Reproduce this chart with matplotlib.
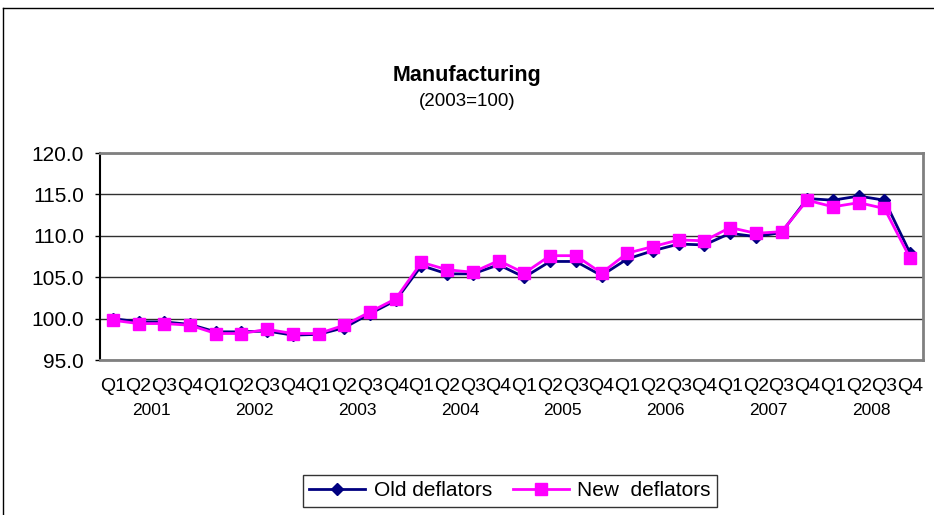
import matplotlib
matplotlib.use("Agg")
import matplotlib.pyplot as plt
from matplotlib.lines import Line2D
import numpy as np

plt.rcParams['font.family'] = ['Liberation Sans', 'DejaVu Sans']

years = ['2001', '2002', '2003', '2004', '2005', '2006', '2007', '2008']
quarters = ['Q1', 'Q2', 'Q3', 'Q4']
old_deflators = [100.0, 99.6, 99.6, 99.3, 98.4, 98.4, 98.5, 98.0,
                 98.1, 98.9, 100.6, 102.2, 106.4, 105.4, 105.4, 106.5,
                 105.0, 106.9, 106.9, 105.2, 107.2, 108.2, 109.0, 108.9,
                 110.3, 109.9, 110.4, 114.5, 114.3, 114.8, 114.3, 107.9]
new_deflators = [99.8, 99.4, 99.4, 99.2, 98.2, 98.2, 98.7, 98.2,
                 98.2, 99.2, 100.8, 102.4, 106.8, 105.9, 105.6, 107.0,
                 105.5, 107.6, 107.6, 105.5, 107.9, 108.7, 109.5, 109.4,
                 111.0, 110.3, 110.5, 114.3, 113.5, 114.0, 113.3, 107.3]
y_ticks = [95.0, 100.0, 105.0, 110.0, 115.0, 120.0]

W, H = 934, 515
fig = plt.figure(figsize=(W / 100, H / 100), dpi=100)

# outer chart border (left and top visible)
fig.add_artist(Line2D([3 / W, 3 / W], [0, 1 - 8 / H], color='black', lw=1, transform=fig.transFigure))
fig.add_artist(Line2D([3 / W, 1], [1 - 8 / H, 1 - 8 / H], color='black', lw=1, transform=fig.transFigure))

left, right, top, bottom = 100, 923, 153, 360
ax = fig.add_axes([left / W, 1 - bottom / H, (right - left) / W, (bottom - top) / H])

labels = [q for y in years for q in quarters]
x = np.arange(len(labels))

ax.plot(x, old_deflators, color='#000080', lw=2, marker='D', markersize=6.5,
        markerfacecolor='#000080', markeredgecolor='#000080', label='Old deflators', zorder=3)
ax.plot(x, new_deflators, color='#FF00FF', lw=2, marker='s', markersize=8,
        markerfacecolor='#FF00FF', markeredgecolor='#FF00FF', label='New  deflators', zorder=4)

ax.set_xlim(-0.5, len(labels) - 0.5)
ax.set_ylim(95, 120)
ax.set_yticks(y_ticks)
ax.set_yticklabels([f'{v:.1f}' for v in y_ticks], fontsize=15)
ax.yaxis.grid(True, color='#303030', lw=1)
ax.set_axisbelow(True)

ax.set_xticks(x)
ax.set_xticklabels(labels, fontsize=14)
ax.tick_params(axis='x', length=0, pad=13)
ax.tick_params(axis='y', length=3.5, width=1, pad=8, color='black')

for i, yr in enumerate(years):
    ax.text(i * 4 + 1.5, -0.245, yr, transform=ax.get_xaxis_transform(),
            ha='center', va='center', fontsize=12.5)

for s in ['top', 'right', 'bottom']:
    ax.spines[s].set_color('#808080')
    ax.spines[s].set_linewidth(2)
ax.spines['left'].set_color('black')
ax.spines['left'].set_linewidth(1.5)

fig.text(467 / W, 1 - 76 / H, 'Manufacturing', ha='center', va='center', fontsize=15.5, fontweight='bold')
fig.text(467 / W, 1 - 101 / H, '(2003=100)', ha='center', va='center', fontsize=13.5)

leg = fig.legend(loc='center', bbox_to_anchor=(510 / W, 1 - 491 / H), ncol=2, fontsize=15,
                 frameon=True, fancybox=False, edgecolor='black', handlelength=2.7,
                 columnspacing=1.0, handletextpad=0.4, borderpad=0.3)
leg.get_frame().set_linewidth(1)

fig.savefig('out.png', dpi=100)
